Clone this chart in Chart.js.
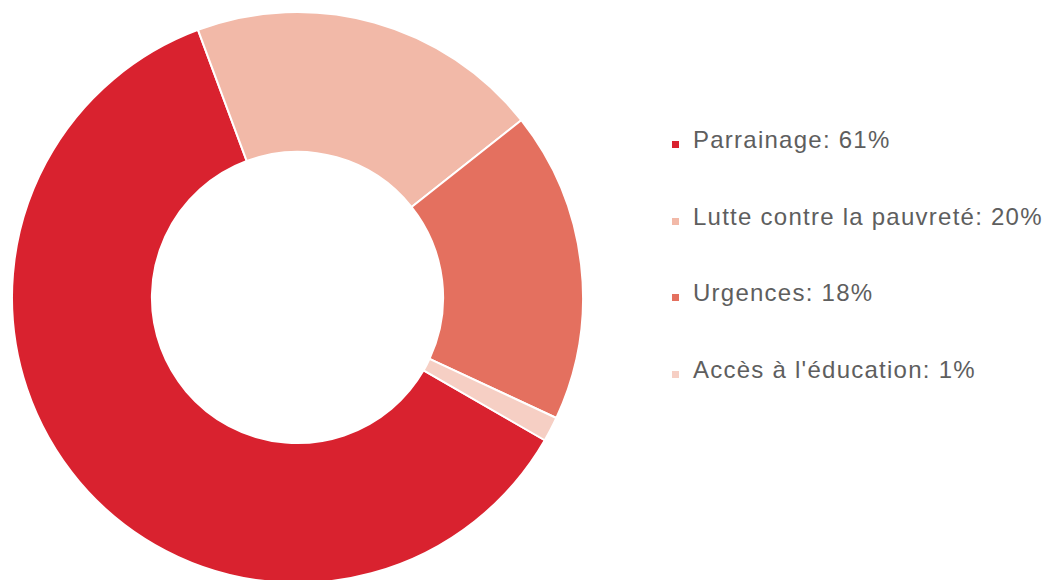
<!DOCTYPE html>
<html>
<head>
<meta charset="utf-8">
<script src="https://cdn.jsdelivr.net/npm/chart.js@4/dist/chart.umd.min.js"></script>
<style>
  html, body { margin: 0; padding: 0; background: #fff; overflow: hidden; width: 1049px; height: 580px; }
  #wrap { position: absolute; left: 11px; top: 11px; width: 573px; height: 573px; }
  #legend { position: absolute; left: 672px; top: 128px; font-family: "Liberation Sans", Arial, sans-serif; font-size: 24px; letter-spacing: 1.25px; color: #5e5e5e; }
  #legend div { height: 76.5px; line-height: 24px; white-space: nowrap; }
  #legend span.box { display: inline-block; width: 7px; height: 7px; margin-right: 14px; vertical-align: baseline; }
</style>
</head>
<body>
<div id="wrap"><canvas id="chart"></canvas></div>
<div id="legend"></div>
<script>
var labels = ['Parrainage', 'Lutte contre la pauvreté', 'Urgences', "Accès à l'éducation"];
var values = [61, 20, 17.6, 1.4];
var colors = ['#d9222f', '#f2b9a8', '#e4705f', '#f6cfc4'];

var ctx = document.getElementById('chart').getContext('2d');
var myChart = new Chart(ctx, {
  type: 'doughnut',
  data: {
    labels: labels,
    datasets: [
      {
        data: values,
        backgroundColor: colors,
        borderColor: '#ffffff',
        borderWidth: 2
      }
    ]
  },
  options: {
    responsive: true,
    maintainAspectRatio: false,
    animation: false,
    rotation: 120,
    cutout: '51%',
    plugins: {
      legend: { display: false },
      tooltip: { enabled: false }
    }
  }
});

// legend rows, built from the same arrays
var legend = document.getElementById('legend');
labels.forEach(function(l, i) {
  var row = document.createElement('div');
  var box = document.createElement('span');
  box.className = 'box';
  box.style.background = colors[i];
  row.appendChild(box);
  row.appendChild(document.createTextNode(l + ': ' + Math.round(values[i]) + '%'));
  legend.appendChild(row);
});
</script>
</body>
</html>
